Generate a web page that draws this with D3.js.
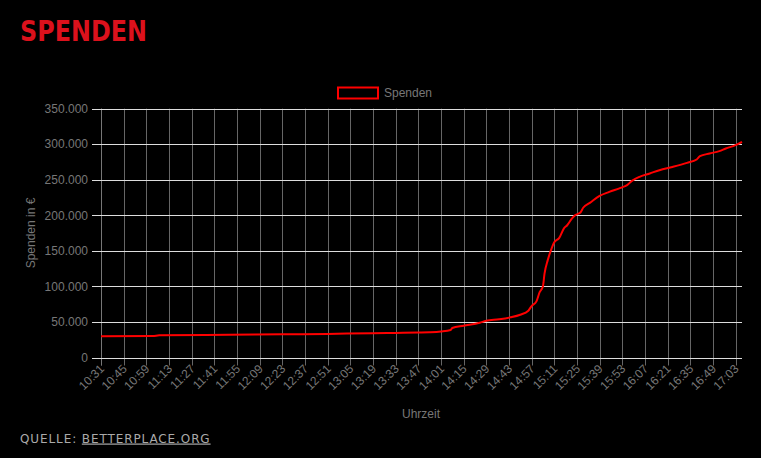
<!DOCTYPE html>
<html>
<head>
<meta charset="utf-8">
<script src="https://cdn.jsdelivr.net/npm/d3@7"></script>
<style>
  body { margin: 0; background: #000; }
  svg { display: block; font-family: "Liberation Sans", Arial, sans-serif; }
</style>
</head>
<body>
<svg id="chart" width="761" height="458"></svg>
<script>
// Uhrzeit der Messpunkte und Spendenstand in Euro
const times = [
  "10:31", "11:03", "11:07", "11:50", "12:23", "12:51", "13:19", "13:33",
  "13:47", "13:54", "14:01", "14:07", "14:08", "14:15", "14:25", "14:29",
  "14:37", "14:44", "14:50", "14:55", "14:57", "15:00", "15:02", "15:04",
  "15:05", "15:07", "15:09", "15:11", "15:14", "15:17", "15:19", "15:22",
  "15:24", "15:27", "15:29", "15:33", "15:39", "15:45", "15:52", "15:56",
  "15:59", "16:04", "16:10", "16:16", "16:24", "16:33", "16:39", "16:41",
  "16:47", "16:53", "16:57", "17:03", "17:07",
];
const spenden = [
  29800, 30100, 31200, 32000, 32600, 33200, 34200, 34600,
  35000, 35400, 36500, 38700, 41500, 44700, 48900, 51700,
  53700, 56500, 60200, 65800, 72400, 79000, 92000, 100000,
  118000, 137000, 151000, 162000, 168000, 181600, 186000, 195700,
  200300, 203500, 211000, 217600, 227400, 233000, 238700, 242500,
  248500, 254500, 258900, 263500, 268000, 273800, 278600, 283200,
  287000, 290300, 294000, 298700, 303500,
];
const tickLabels = [
  "10:31", "10:45", "10:59", "11:13", "11:27", "11:41", "11:55", "12:09",
  "12:23", "12:37", "12:51", "13:05", "13:19", "13:33", "13:47", "14:01",
  "14:15", "14:29", "14:43", "14:57", "15:11", "15:25", "15:39", "15:53",
  "16:07", "16:21", "16:35", "16:49", "17:03",
];
const yTicks = [0, 50000, 100000, 150000, 200000, 250000, 300000, 350000];

const parse = d3.timeParse("%H:%M");
const data = times.map((t, i) => ({ t: parse(t), v: spenden[i] }));
const de = d3.formatLocale({ decimal: ",", thousands: ".", grouping: [3], currency: ["", " €"] });
const fmt = de.format(",");

const svg = d3.select("#chart");
const L = 101, R = 742, T = 108.7, B = 357.5;

const x = d3.scaleTime().domain([parse("10:31"), parse("17:07")]).range([L, R]);
const y = d3.scaleLinear().domain([0, 350000]).range([B, T]);

// Titel
svg.append("text")
  .attr("x", 20).attr("y", 41)
  .attr("textLength", 127).attr("lengthAdjust", "spacingAndGlyphs")
  .attr("fill", "#dc111c")
  .style("font-family", "DejaVu Sans")
  .style("font-weight", "900")
  .style("font-size", "28px")
  .text("SPENDEN");

// Legende
svg.append("rect")
  .attr("x", 338).attr("y", 87.5).attr("width", 40).attr("height", 11)
  .attr("fill", "none").attr("stroke", "red").attr("stroke-width", 2);
svg.append("text")
  .attr("x", 384).attr("y", 96.5)
  .attr("fill", "#777").style("font-size", "12px")
  .text("Spenden");

// vertikale Gitterlinien (mit Tick-Strichen unten)
const tickDates = tickLabels.map(parse);
svg.append("g").selectAll("line").data(tickDates).join("line")
  .attr("x1", d => Math.round(x(d)) + 0.5).attr("x2", d => Math.round(x(d)) + 0.5)
  .attr("y1", T).attr("y2", B + 8)
  .attr("stroke", "#666").attr("stroke-width", 1);
svg.append("line")
  .attr("x1", L + 0.5).attr("x2", L + 0.5).attr("y1", T).attr("y2", B + 8)
  .attr("stroke", "#777");

// horizontale Gitterlinien
svg.append("g").selectAll("line").data(yTicks).join("line")
  .attr("x1", L - 9).attr("x2", R)
  .attr("y1", d => Math.round(y(d)) + 0.5).attr("y2", d => Math.round(y(d)) + 0.5)
  .attr("stroke", "#ddd").attr("stroke-width", 1);

// Y-Achse Beschriftungen
svg.append("g").selectAll("text").data(yTicks).join("text")
  .attr("x", L - 13).attr("y", d => y(d)).attr("dy", "0.35em")
  .attr("text-anchor", "end")
  .attr("fill", "#777").style("font-size", "12px")
  .text(d => fmt(d));

svg.append("text")
  .attr("transform", `translate(35,233) rotate(-90)`)
  .attr("text-anchor", "middle")
  .attr("fill", "#777").style("font-size", "12px")
  .text("Spenden in €");

// X-Achse Beschriftungen
svg.append("g").selectAll("text").data(tickLabels).join("text")
  .attr("transform", d => `translate(${x(parse(d)) + 4},${B + 12}) rotate(-45)`)
  .attr("text-anchor", "end")
  .attr("fill", "#777").style("font-size", "12px")
  .text(d => d);

svg.append("text")
  .attr("x", 421).attr("y", 418)
  .attr("text-anchor", "middle")
  .attr("fill", "#777").style("font-size", "12px")
  .text("Uhrzeit");

// Linie
const line = d3.line().x(d => x(d.t)).y(d => y(d.v)).curve(d3.curveMonotoneX);
svg.append("path").datum(data)
  .attr("d", line)
  .attr("fill", "none").attr("stroke", "#f00").attr("stroke-width", 2)
  .attr("stroke-linejoin", "round");

// Quelle
const q = svg.append("text")
  .attr("x", 20).attr("y", 442.5)
  .attr("fill", "#aaa")
  .style("font-family", "DejaVu Sans")
  .style("font-size", "12px")
  .style("letter-spacing", "0.9px");
q.append("tspan").text("QUELLE: ");
q.append("tspan").style("text-decoration", "underline").text("BETTERPLACE.ORG");
</script>
</body>
</html>
